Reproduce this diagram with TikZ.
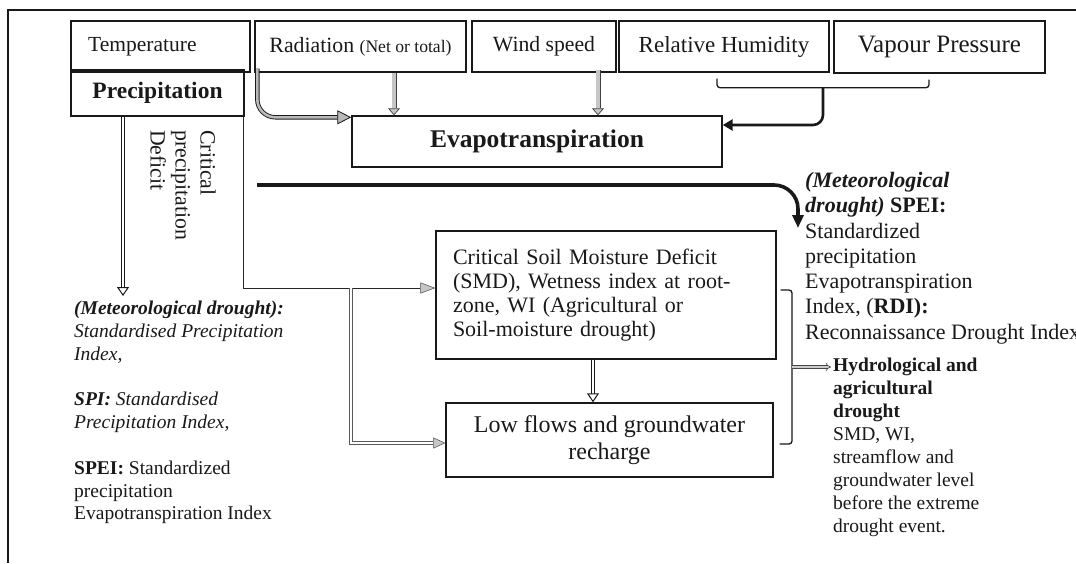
\documentclass[tikz,border=0pt]{standalone}
\usepackage{fontspec}
\setmainfont{Liberation Serif}
\usetikzlibrary{arrows.meta}
\newcommand\myfs[2]{\fontsize{#1}{#2}\selectfont}
\begin{document}
\begin{tikzpicture}[x=1pt,y=-1pt,
  box/.style={draw=black!90, line width=1.4pt, inner sep=0pt, text=black!90},
  txt/.style={inner sep=0pt, text=black!90},
  dblk/.style={draw=black!90, line width=1pt, double=white, double distance=2pt,
     -{Triangle[open, length=9pt, width=12pt, line width=1pt]}},
  thinln/.style={draw=black!85, line width=0.9pt,
     -{Triangle[length=15pt, width=11pt, fill=gray!45, color=gray!60!black, line width=0.5pt]}},
  gdbl/.style={draw=gray!70!black, line width=0.9pt, double=white, double distance=1.6pt,
     -{Triangle[length=12pt, width=11pt, fill=gray!45, color=gray!60!black, line width=0.5pt]}},
  radarrow/.style={draw=black!90, line width=0.9pt, double=gray!55, double distance=2.6pt,
     -{Triangle[length=14pt, width=14pt, fill=gray!55, color=black!90, line width=0.8pt]}},
  gdown/.style={draw=gray!50!black, line width=0.8pt, double=gray!45, double distance=3.4pt,
     -{Triangle[length=7pt, width=12pt, fill=gray!45, color=gray!50!black, line width=0.7pt]}},
  brk/.style={draw=black!90, line width=1.3pt},
  blkarrow/.style={draw=black!90, line width=2.6pt,
     -{Triangle[length=10pt, width=11pt, color=black!90]}},
  bigarrow/.style={draw=black!90, line width=3.6pt,
     -{Triangle[length=13pt, width=11pt, color=black!90]}},
  gimp/.style={draw=gray!55!black, line width=0.7pt, double=gray!40, double distance=2pt,
     -{Implies}, shorten >=2pt}
]
\useasboundingbox (0,0) rectangle (1076,563);

% frame
\coordinate (fbl) at (8,563);
\coordinate (ftl) at (8,10);
\coordinate (ftr) at (1078,10);
\draw[line width=1.6pt, black!90] (fbl) -- (ftl) -- (ftr);

% top boxes
\node[box, minimum width=179pt, minimum height=51pt] (temp) at (160.5,46.5) {};
\node[txt, anchor=base west, font=\myfs{21.5}{25}] (tempt) at (88,51) {Temperature};
\node[box, minimum width=211pt, minimum height=51pt, font=\myfs{21.8}{25}] (rad) at (360.5,46.5)
  {Radiation {\myfs{17.6}{20}(Net or total)}};
\node[box, minimum width=144pt, minimum height=51pt, font=\myfs{21.7}{25}] (wind) at (544,46.5) {Wind speed};
\node[box, minimum width=210pt, minimum height=51pt, font=\myfs{23}{26}] (rh) at (724,46.5) {Relative Humidity};
\node[box, minimum width=211pt, minimum height=52pt, font=\myfs{25}{28}] (vp) at (939.5,47) {Vapour Pressure};

\node[box, minimum width=173pt, minimum height=46pt, font=\myfs{23.5}{27}\bfseries] (precip) at (157.5,93) {Precipitation};
\node[box, minimum width=370pt, minimum height=51pt, font=\myfs{25.5}{29}\bfseries] (evapo) at (537,141.5) {Evapotranspiration};

\node[box, minimum width=340pt, minimum height=128pt, text width=306pt, inner xsep=17pt, align=left,
  font=\myfs{22}{24}] (smd) at (606,295)
  {Critical Soil Moisture Deficit\\ (SMD), Wetness index at root-\\ zone, WI (Agricultural or\\ Soil-moisture drought)};
\node[box, minimum width=327pt, minimum height=74pt, align=center, font=\myfs{24}{27}] (lowf) at (609.5,440)
  {Low flows and groundwater\\ recharge};

% rotated text
\node[txt, rotate=-90, anchor=north west, align=left, font=\myfs{21.8}{25}] (cpd) at (216,130)
  {Critical\\ precipitation\\ Deficit};

% left text
\node[txt, anchor=north west, align=left, font=\myfs{19.5}{22.8}] (lefttext) at (74,301)
  {\textbf{\textit{(Meteorological drought):}}\\
   \textit{Standardised Precipitation}\\
   \textit{Index,}\\[22.8pt]
   \textbf{\textit{SPI:}} \textit{Standardised}\\
   \textit{Precipitation Index,}\\[22.8pt]
   \textbf{SPEI:} Standardized\\
   precipitation\\
   Evapotranspiration Index};

% right SPEI text
\node[txt, anchor=north west, align=left, font=\myfs{22}{25.3}] (spei) at (805,172)
  {\textbf{\textit{(Meteorological}}\\
   \textbf{\textit{drought)} SPEI:}\\
   Standardized\\
   precipitation\\
   Evapotranspiration\\
   Index, (\textbf{RDI):}\\
   Reconnaissance Drought Index};

% hydrological text
\node[txt, anchor=north west, align=left, font=\myfs{19.5}{23}] (hydro) at (833,358)
  {\textbf{Hydrological and}\\
   \textbf{agricultural}\\
   \textbf{drought}\\
   SMD, WI,\\
   streamflow and\\
   groundwater level\\
   before the extreme\\
   drought event.};

% precipitation down arrow
\coordinate (pd) at ([xshift=-34.5pt]precip.south);
\draw[dblk] (pd) -- ([yshift=5pt]pd |- lefttext.north);

% thin line precipitation -> SMD
\coordinate (pr) at ([xshift=-1pt]precip.south east);
\draw[thinln] (pr) |- ([yshift=7pt]smd.west);
\coordinate (br) at (351,288);
\draw[gdbl] (br) |- ([yshift=-3pt]lowf.west);

% radiation curved arrow
\draw[radarrow, rounded corners=18pt] ([xshift=3pt,yshift=4pt]rad.south west) |- ([yshift=-2pt]evapo.north west);

% radiation / wind down arrows
\coordinate (rd) at ([xshift=33.5pt]rad.south);
\draw[gdown] (rd) -- (rd |- evapo.north);
\coordinate (wd) at ([xshift=54pt,yshift=3pt]wind.south);
\draw[gdown] (wd) -- (wd |- evapo.north);

% humidity / vapour bracket
\coordinate (b1) at ([xshift=-7pt,yshift=-6pt]rh.south);
\coordinate (b2) at ([xshift=-10.5pt,yshift=-6pt]vp.south);
\coordinate (bm) at (823,87);
\draw[brk, rounded corners=3pt] (b1) -- ++(0,9) -| (b2);
\draw[blkarrow, rounded corners=10pt] (bm) |- ([yshift=16.5pt]evapo.east);

% big curved arrow
\coordinate (ca) at (257,185);
\coordinate (cb) at (798,228);
\draw[bigarrow, rounded corners=24pt] (ca) -| (cb);

% SMD -> low flows
\coordinate (sd) at ([xshift=-13pt]smd.south);
\draw[dblk] (sd) -- (sd |- lowf.north);

% right bracket
\coordinate (r1) at ([xshift=4pt,yshift=5pt]smd.east);
\coordinate (r2) at ([xshift=6pt,yshift=-4pt]lowf.east);
\coordinate (rm) at (792,367);
\draw[brk, rounded corners=3pt] (r1) -| (rm) |- (r2);
\draw[gimp] (rm) -- (rm -| hydro.west);
\end{tikzpicture}
\end{document}
